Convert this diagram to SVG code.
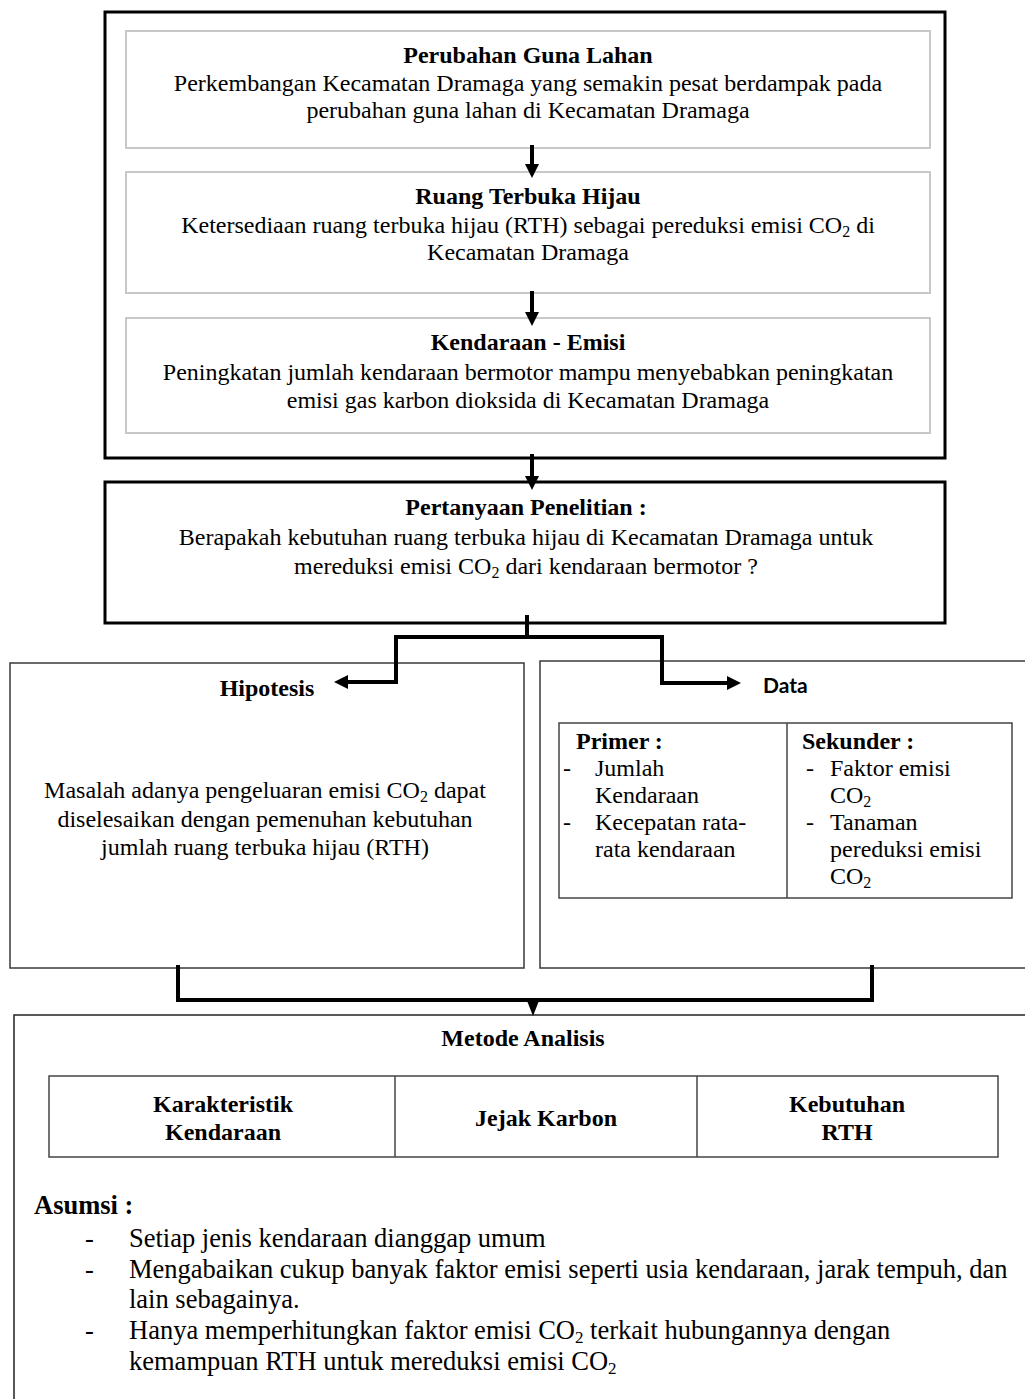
<svg xmlns="http://www.w3.org/2000/svg" width="1025" height="1399" viewBox="0 0 1025 1399">
<defs>
<style>
text{font-family:"Liberation Serif","Times New Roman",serif;fill:#000;font-size:24px}
.c{text-anchor:middle}
.b{font-weight:bold}
.big{font-size:26.5px}
.sub{font-size:16px}
.outer{fill:none;stroke:#000;stroke-width:3}
.inner{fill:#fff;stroke:#c8c8c8;stroke-width:2}
.box{fill:#fff;stroke:#3a3a3a;stroke-width:1.5}
.tbl{fill:none;stroke:#444;stroke-width:1.5}
.conn{fill:none;stroke:#000;stroke-width:4}
.sans{font-family:Lato,"Liberation Sans",sans-serif;font-weight:bold;font-size:21px}
</style>
<marker id="ah" markerUnits="userSpaceOnUse" markerWidth="14" markerHeight="14" refX="2" refY="7" orient="auto">
<path d="M0,0 L14,7 L0,14 z" fill="#000"/>
</marker>
<marker id="ahs" markerUnits="userSpaceOnUse" markerWidth="14" markerHeight="12" refX="1" refY="5.5" orient="auto">
<path d="M0,0 L14,5.5 L0,11 z" fill="#000"/>
</marker>
</defs>
<rect width="1025" height="1399" fill="#fff"/>

<g id="latar">
<rect class="outer" x="105" y="12" width="840" height="446"/>
<g id="perubahan">
<rect class="inner" x="126" y="31" width="804" height="117"/>
<text class="c b" x="528" y="63">Perubahan Guna Lahan</text>
<text class="c" x="528" y="91">Perkembangan Kecamatan Dramaga yang semakin pesat berdampak pada</text>
<text class="c" x="528" y="118">perubahan guna lahan di Kecamatan Dramaga</text>
</g>
<g id="rth">
<rect class="inner" x="126" y="172" width="804" height="121"/>
<text class="c b" x="528" y="204">Ruang Terbuka Hijau</text>
<text class="c" x="528" y="233">Ketersediaan ruang terbuka hijau (RTH) sebagai pereduksi emisi CO<tspan class="sub" dy="4">2</tspan><tspan dy="-4"> di</tspan></text>
<text class="c" x="528" y="260">Kecamatan Dramaga</text>
</g>
<g id="kendaraan">
<rect class="inner" x="126" y="318" width="804" height="115"/>
<text class="c b" x="528" y="350">Kendaraan - Emisi</text>
<text class="c" x="528" y="380">Peningkatan jumlah kendaraan bermotor mampu menyebabkan peningkatan</text>
<text class="c" x="528" y="408">emisi gas karbon dioksida di Kecamatan Dramaga</text>
</g>
</g>

<g id="pertanyaan">
<rect class="outer" x="105" y="482" width="840" height="141"/>
<text class="c b" x="526" y="515">Pertanyaan Penelitian :</text>
<text class="c" x="526" y="545">Berapakah kebutuhan ruang terbuka hijau di Kecamatan Dramaga untuk</text>
<text class="c" x="526" y="574">mereduksi emisi CO<tspan class="sub" dy="4">2</tspan><tspan dy="-4"> dari kendaraan bermotor ?</tspan></text>
</g>

<g id="hipotesis">
<rect class="box" x="10" y="663" width="514" height="305"/>
<text class="c b" x="267" y="696">Hipotesis</text>
<text class="c" x="265" y="798">Masalah adanya pengeluaran emisi CO<tspan class="sub" dy="4">2</tspan><tspan dy="-4"> dapat</tspan></text>
<text class="c" x="265" y="827">diselesaikan dengan pemenuhan kebutuhan</text>
<text class="c" x="265" y="855">jumlah ruang terbuka hijau (RTH)</text>
</g>

<g id="data">
<rect class="box" x="540" y="661" width="500" height="307"/>
<text class="sans" x="763" y="693">Data</text>
<rect class="tbl" x="559" y="723" width="453" height="175"/>
<line class="tbl" x1="787" y1="723" x2="787" y2="898"/>
<text class="b" x="576" y="749">Primer :</text>
<text x="563" y="776">-</text><text x="595" y="776">Jumlah</text>
<text x="595" y="803">Kendaraan</text>
<text x="563" y="830">-</text><text x="595" y="830">Kecepatan rata-</text>
<text x="595" y="857">rata kendaraan</text>
<text class="b" x="802" y="749">Sekunder :</text>
<text x="806" y="776">-</text><text x="830" y="776">Faktor emisi</text>
<text x="830" y="803">CO<tspan class="sub" dy="4">2</tspan></text>
<text x="806" y="830">-</text><text x="830" y="830">Tanaman</text>
<text x="830" y="857">pereduksi emisi</text>
<text x="830" y="884">CO<tspan class="sub" dy="4">2</tspan></text>
</g>

<g id="metode">
<rect class="box" x="14" y="1015" width="1030" height="400" style="stroke:#222"/>
<text class="c b" x="523" y="1046">Metode Analisis</text>
<rect class="tbl" x="49" y="1076" width="949" height="81"/>
<line class="tbl" x1="395" y1="1076" x2="395" y2="1157"/>
<line class="tbl" x1="697" y1="1076" x2="697" y2="1157"/>
<text class="c b" x="223" y="1112">Karakteristik</text>
<text class="c b" x="223" y="1140">Kendaraan</text>
<text class="c b" x="546" y="1126">Jejak Karbon</text>
<text class="c b" x="847" y="1112">Kebutuhan</text>
<text class="c b" x="847" y="1140">RTH</text>
<text class="b big" x="34" y="1214">Asumsi :</text>
<text class="big" x="85" y="1247">-</text>
<text class="big" x="129" y="1247">Setiap jenis kendaraan dianggap umum</text>
<text class="big" x="85" y="1278">-</text>
<text class="big" x="129" y="1278">Mengabaikan cukup banyak faktor emisi seperti usia kendaraan, jarak tempuh, dan</text>
<text class="big" x="129" y="1308">lain sebagainya.</text>
<text class="big" x="85" y="1339">-</text>
<text class="big" x="129" y="1339">Hanya memperhitungkan faktor emisi CO<tspan class="sub" style="font-size:17px" dy="4">2</tspan><tspan dy="-4"> terkait hubungannya dengan</tspan></text>
<text class="big" x="129" y="1370">kemampuan RTH untuk mereduksi emisi CO<tspan class="sub" style="font-size:17px" dy="4">2</tspan></text>
</g>

<g id="connectors">
<path class="conn" d="M532,145 V166" marker-end="url(#ah)"/>
<path class="conn" d="M532,291 V314" marker-end="url(#ah)"/>
<path class="conn" d="M532,454 V478" marker-end="url(#ah)"/>
<path class="conn" d="M527,615 V637"/>
<path class="conn" d="M527,637 H396 V682 H346" marker-end="url(#ah)"/>
<path class="conn" d="M527,637 H662 V683 H729" marker-end="url(#ah)"/>
<path class="conn" d="M178,965 V1000 H872 V965"/>
<path class="conn" d="M533,1000 V1003" style="stroke-width:2" marker-end="url(#ahs)"/>
</g>
</svg>
